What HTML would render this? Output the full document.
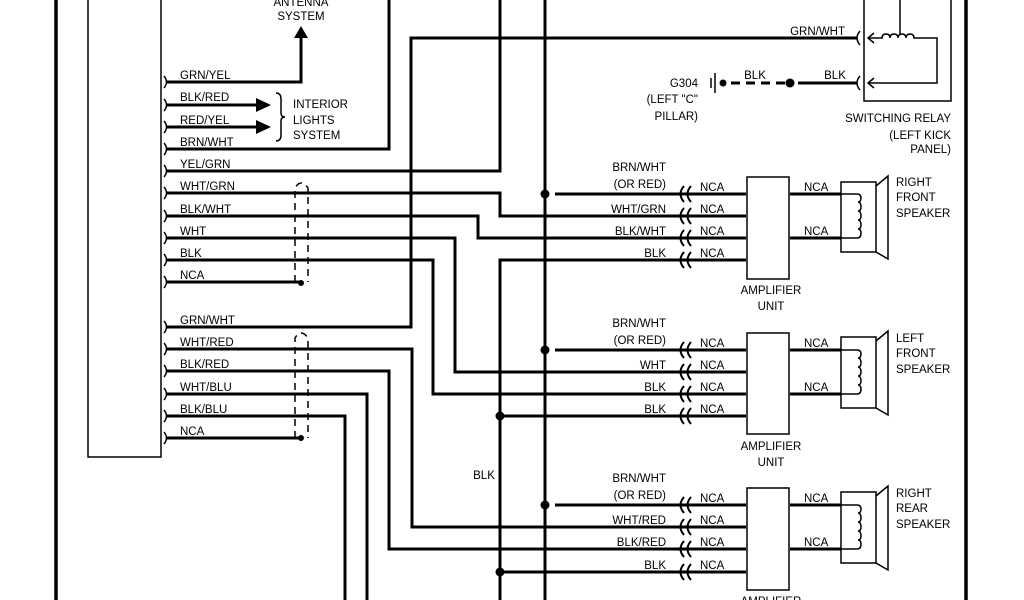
<!DOCTYPE html>
<html><head><style>
html,body{margin:0;padding:0;background:#fff;}
svg{display:block;}
text{font-family:"Liberation Sans",sans-serif;font-size:11.5px;fill:#000;}
.r{text-anchor:end}
.m{text-anchor:middle}
</style></head><body>
<svg width="1024" height="600" viewBox="0 0 1024 600" xmlns="http://www.w3.org/2000/svg">
<g stroke="#000" fill="none">
<line x1="56" y1="0" x2="56" y2="600" stroke-width="3.5"/>
<line x1="966" y1="0" x2="966" y2="600" stroke-width="3.5"/>
<path d="M88,0 V457 H161 V0" stroke-width="1.5"/>
<g stroke-width="3">
<path d="M166,82 H301 V36"/>
<path d="M166,105 H258"/>
<path d="M166,127 H258"/>
<path d="M166,149 H389 V0"/>
<path d="M166,171 H500 V0"/>
<path d="M166,193 H500 V216 H746"/>
<path d="M166,216 H478 V238 H746"/>
<path d="M166,238 H455 V372 H746"/>
<path d="M166,260 H433 V394 H746"/>
<path d="M166,282 H301"/>
<path d="M166,327 H411 V38 H857"/>
<path d="M166,349 H412 V527 H746"/>
<path d="M166,371 H389 V549 H746"/>
<path d="M166,394 H367 V600"/>
<path d="M166,416 H345 V600"/>
<path d="M166,438 H301"/>
<path d="M746,260 H500 V600"/>
<path d="M500,416 H746"/>
<path d="M500,572 H746"/>
<path d="M545,0 V600"/>
<path d="M555,194 H746"/>
<path d="M555,350 H746"/>
<path d="M555,505 H746"/>
<path d="M790,194 H841 M790,238 H841"/>
<path d="M790,350 H841 M790,394 H841"/>
<path d="M790,505 H841 M790,549 H841"/>
<path d="M798,83 H857"/>
<path d="M731,83 H790" stroke-dasharray="9,6"/>
</g>
<g stroke-width="1.5">
<path d="M164,76 q5,6 0,12"/><path d="M164,99 q5,6 0,12"/><path d="M164,121 q5,6 0,12"/><path d="M164,143 q5,6 0,12"/><path d="M164,165 q5,6 0,12"/><path d="M164,187 q5,6 0,12"/><path d="M164,210 q5,6 0,12"/><path d="M164,232 q5,6 0,12"/><path d="M164,254 q5,6 0,12"/><path d="M164,276 q5,6 0,12"/>
<path d="M164,321 q5,6 0,12"/><path d="M164,343 q5,6 0,12"/><path d="M164,365 q5,6 0,12"/><path d="M164,388 q5,6 0,12"/><path d="M164,410 q5,6 0,12"/><path d="M164,432 q5,6 0,12"/>
<path d="M295,282 V188 q6,-10 13,0 V282" stroke-dasharray="7,5"/>
<path d="M295,438 V338 q6,-10 13,0 V438" stroke-dasharray="7,5"/>
<path d="M276,93 q5,0 5,6 v14 q0,4 4,4 q-4,0 -4,4 v14 q0,6 -5,6"/>
</g>
<g stroke-width="2">
<path d="M684,186 q-7,8 0,16 M691,186 q-7,8 0,16"/><path d="M684,208 q-7,8 0,16 M691,208 q-7,8 0,16"/><path d="M684,230 q-7,8 0,16 M691,230 q-7,8 0,16"/><path d="M684,252 q-7,8 0,16 M691,252 q-7,8 0,16"/>
<path d="M684,342 q-7,8 0,16 M691,342 q-7,8 0,16"/><path d="M684,364 q-7,8 0,16 M691,364 q-7,8 0,16"/><path d="M684,386 q-7,8 0,16 M691,386 q-7,8 0,16"/><path d="M684,408 q-7,8 0,16 M691,408 q-7,8 0,16"/>
<path d="M684,497 q-7,8 0,16 M691,497 q-7,8 0,16"/><path d="M684,519 q-7,8 0,16 M691,519 q-7,8 0,16"/><path d="M684,541 q-7,8 0,16 M691,541 q-7,8 0,16"/><path d="M684,564 q-7,8 0,16 M691,564 q-7,8 0,16"/>
</g>
<g stroke-width="1.5">
<rect x="747" y="177" width="42" height="102"/>
<rect x="747" y="333" width="42" height="101"/>
<rect x="747" y="488" width="42" height="102"/>
<rect x="841" y="182" width="35" height="70"/><path d="M876,186 L888,176 V259 L876,252"/>
<path d="M841,194 H857 q4,0 4,4 q0,4 -3,4 q3,0 3,5 q0,4 -3,4 q3,0 3,5 q0,4 -3,4 q3,0 3,5 q0,4 -3,4 q3,0 3,4 q0,5 -4,5 H841"/>
<rect x="841" y="337" width="35" height="71"/><path d="M876,341 L888,331 V415 L876,408"/>
<path d="M841,350 H857 q4,0 4,4 q0,4 -3,4 q3,0 3,5 q0,4 -3,4 q3,0 3,5 q0,4 -3,4 q3,0 3,5 q0,4 -3,4 q3,0 3,4 q0,5 -4,5 H841"/>
<rect x="841" y="492" width="35" height="71"/><path d="M876,496 L888,486 V570 L876,563"/>
<path d="M841,505 H857 q4,0 4,4 q0,4 -3,4 q3,0 3,5 q0,4 -3,4 q3,0 3,5 q0,4 -3,4 q3,0 3,5 q0,4 -3,4 q3,0 3,4 q0,5 -4,5 H841"/>
<rect x="864" y="-2" width="87" height="103"/>
<path d="M860,31 q-6,7 0,14 M860,76 q-6,7 0,14"/>
<path d="M874,33 l-6,5 l6,5 M874,78 l-6,5 l6,5"/>
<path d="M868,38 H882 q0,-4 4,-4 q4,0 4,4 q0,-4 4,-4 q4,0 4,4 q0,-4 4,-4 q4,0 4,4 q0,-4 4,-4 q4,0 4,4 H937 V83 H868"/>
<path d="M900,0 V34"/>
<path d="M711,78 V88 M715,73 V93"/>
</g>
</g>
<g fill="#000">
<polygon points="294,38 308,38 301,26"/>
<polygon points="256,98 256,112 271,105"/>
<polygon points="256,120 256,134 271,127"/>
<circle cx="301" cy="283" r="3"/><circle cx="301" cy="438" r="3"/>
<circle cx="545" cy="194" r="4.5"/><circle cx="545" cy="350" r="4.5"/><circle cx="545" cy="505" r="4.5"/>
<circle cx="500" cy="416" r="4.5"/><circle cx="500" cy="572" r="4.5"/>
<circle cx="790" cy="83" r="4.5"/><circle cx="723" cy="83" r="3.5"/>
</g>
<text x="301" y="6" class="m">ANTENNA</text>
<text x="301" y="20" class="m">SYSTEM</text>
<text x="180" y="79">GRN/YEL</text>
<text x="180" y="101">BLK/RED</text>
<text x="180" y="124">RED/YEL</text>
<text x="180" y="146">BRN/WHT</text>
<text x="180" y="168">YEL/GRN</text>
<text x="180" y="190">WHT/GRN</text>
<text x="180" y="213">BLK/WHT</text>
<text x="180" y="235">WHT</text>
<text x="180" y="257">BLK</text>
<text x="180" y="279">NCA</text>
<text x="180" y="324">GRN/WHT</text>
<text x="180" y="346">WHT/RED</text>
<text x="180" y="368">BLK/RED</text>
<text x="180" y="391">WHT/BLU</text>
<text x="180" y="413">BLK/BLU</text>
<text x="180" y="435">NCA</text>
<text x="293" y="108">INTERIOR</text>
<text x="293" y="124">LIGHTS</text>
<text x="293" y="139">SYSTEM</text>
<text x="484" y="479" class="m">BLK</text>
<text x="845" y="35" class="r">GRN/WHT</text>
<text x="755" y="79" class="m">BLK</text>
<text x="835" y="79" class="m">BLK</text>
<text x="698" y="87" class="r">G304</text>
<text x="698" y="103" class="r">(LEFT "C"</text>
<text x="698" y="120" class="r">PILLAR)</text>
<text x="951" y="122" class="r">SWITCHING RELAY</text>
<text x="951" y="139" class="r">(LEFT KICK</text>
<text x="951" y="153" class="r">PANEL)</text>
<text x="666" y="171" class="r">BRN/WHT</text>
<text x="666" y="188" class="r">(OR RED)</text>
<text x="666" y="213" class="r">WHT/GRN</text>
<text x="666" y="235" class="r">BLK/WHT</text>
<text x="666" y="257" class="r">BLK</text>
<text x="700" y="191">NCA</text><text x="700" y="213">NCA</text><text x="700" y="235">NCA</text><text x="700" y="257">NCA</text>
<text x="804" y="191">NCA</text><text x="804" y="235">NCA</text>
<text x="771" y="294" class="m">AMPLIFIER</text><text x="771" y="310" class="m">UNIT</text>
<text x="896" y="186">RIGHT</text><text x="896" y="201">FRONT</text><text x="896" y="217">SPEAKER</text>
<text x="666" y="327" class="r">BRN/WHT</text>
<text x="666" y="344" class="r">(OR RED)</text>
<text x="666" y="369" class="r">WHT</text>
<text x="666" y="391" class="r">BLK</text>
<text x="666" y="413" class="r">BLK</text>
<text x="700" y="347">NCA</text><text x="700" y="369">NCA</text><text x="700" y="391">NCA</text><text x="700" y="413">NCA</text>
<text x="804" y="347">NCA</text><text x="804" y="391">NCA</text>
<text x="771" y="450" class="m">AMPLIFIER</text><text x="771" y="466" class="m">UNIT</text>
<text x="896" y="342">LEFT</text><text x="896" y="357">FRONT</text><text x="896" y="373">SPEAKER</text>
<text x="666" y="482" class="r">BRN/WHT</text>
<text x="666" y="499" class="r">(OR RED)</text>
<text x="666" y="524" class="r">WHT/RED</text>
<text x="666" y="546" class="r">BLK/RED</text>
<text x="666" y="569" class="r">BLK</text>
<text x="700" y="502">NCA</text><text x="700" y="524">NCA</text><text x="700" y="546">NCA</text><text x="700" y="569">NCA</text>
<text x="804" y="502">NCA</text><text x="804" y="546">NCA</text>
<text x="771" y="605" class="m">AMPLIFIER</text>
<text x="896" y="497">RIGHT</text><text x="896" y="512">REAR</text><text x="896" y="528">SPEAKER</text>
</svg>
</body></html>
